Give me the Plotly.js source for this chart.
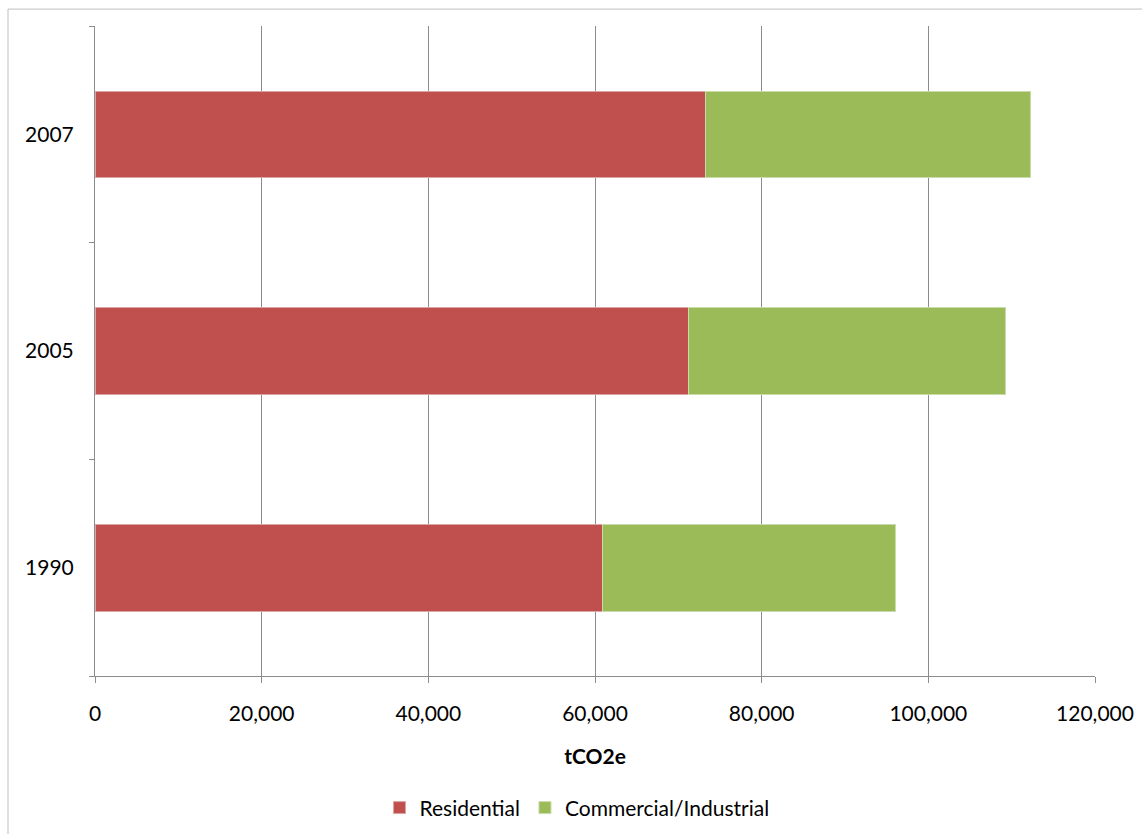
<!DOCTYPE html>
<html>
<head>
<meta charset="utf-8">
<script src="https://cdn.plot.ly/plotly-3.0.1.min.js"></script>
<style>
html,body{margin:0;padding:0;background:#fff;}
#chart{width:1142px;height:834px;}
</style>
</head>
<body>
<div id="chart"></div>
<script>
const years = ["1990", "2005", "2007"];
const residential = [60900, 71250, 73300];
const commercialIndustrial = [35100, 37950, 39000];
const seriesNames = ["Residential", "Commercial/Industrial"];
const xTickValues = [0, 20000, 40000, 60000, 80000, 100000, 120000];
const xTickLabels = ["0", "20,000", "40,000", "60,000", "80,000", "100,000", "120,000"];
const xTitle = "tCO2e";

const font = "Lato, 'Open Sans', sans-serif";
const fs = 21;

const traces = [
  {type: "bar", orientation: "h", name: seriesNames[0], y: years, x: residential,
   marker: {color: "#C0504D", line: {color: "#D9A6A4", width: 1}}, hoverinfo: "x+y+name"},
  {type: "bar", orientation: "h", name: seriesNames[1], y: years, x: commercialIndustrial,
   marker: {color: "#9BBB59", line: {color: "#C9DCA9", width: 1}}, hoverinfo: "x+y+name"}
];

const layout = {
  width: 1142, height: 834,
  margin: {l: 95, r: 47, t: 26, b: 158, autoexpand: false},
  paper_bgcolor: "#ffffff", plot_bgcolor: "#ffffff",
  barmode: "stack", bargap: 0.6,
  font: {family: font, size: fs, color: "#000000"},
  showlegend: true,
  legend: {orientation: "h", x: 0.482, xanchor: "center", y: -0.203, yanchor: "middle",
           traceorder: "normal", font: {family: font, size: fs, color: "#000"},
           itemwidth: 30, bgcolor: "rgba(0,0,0,0)"},
  xaxis: {
    range: [0, 120000.1], tickvals: xTickValues, ticktext: xTickLabels,
    showgrid: true, gridcolor: "#8c8c8c", gridwidth: 1,
    showline: true, linecolor: "#8c8c8c", linewidth: 1,
    ticks: "outside", ticklen: 6, tickcolor: "#8c8c8c",
    zeroline: false, ticklabelstandoff: 13, automargin: false,
    tickfont: {family: font, size: fs, color: "#000"},
    title: {text: xTitle, font: {family: font, size: fs, color: "#000", weight: "bold"}, standoff: 25},
    fixedrange: true
  },
  yaxis: {
    type: "category", categoryorder: "array", categoryarray: years,
    showgrid: false, showline: true, linecolor: "#8c8c8c", linewidth: 1,
    ticks: "outside", ticklen: 5, tickcolor: "#8c8c8c", tickson: "boundaries",
    ticklabelstandoff: 16, automargin: false,
    tickfont: {family: font, size: fs, color: "#000"},
    zeroline: false, fixedrange: true
  },
  shapes: [
    {type: "rect", xref: "paper", yref: "paper", x0: -0.087, x1: 1.2, y0: -0.4, y1: 1.026,
     line: {color: "#bfbfbf", width: 1}, fillcolor: "rgba(0,0,0,0)", layer: "below"}
  ]
};

Plotly.newPlot("chart", traces, layout, {displayModeBar: false});
</script>
</body>
</html>
